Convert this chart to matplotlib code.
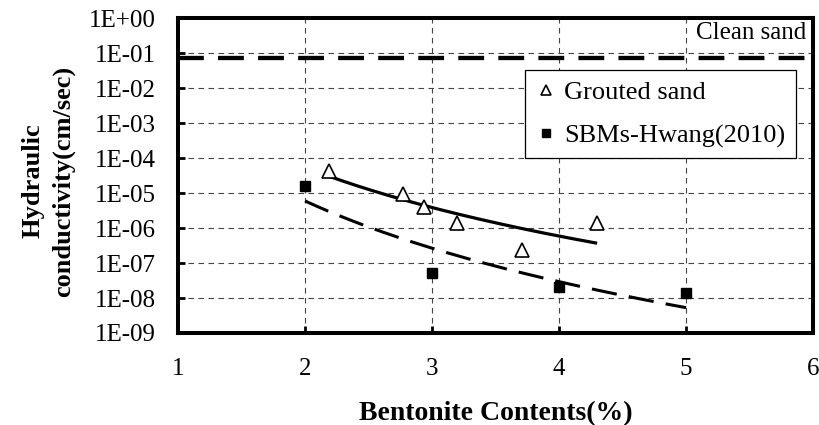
import numpy as np
import matplotlib
matplotlib.use("Agg")
import matplotlib.pyplot as plt
from matplotlib.ticker import FixedLocator, NullLocator, FixedFormatter

plt.rcParams['font.family'] = ['Liberation Serif', 'DejaVu Serif']

# ---- data ----
grouted_x = [2.19, 2.77, 2.94, 3.20, 3.71, 4.30]
grouted_k = [4.4e-5, 9.5e-6, 4.1e-6, 1.4e-6, 2.4e-7, 1.4e-6]

sbm_x = [2.0, 3.0, 4.0, 5.0]
sbm_k = [1.6e-5, 5.3e-8, 2.1e-8, 1.4e-8]

clean_sand_k = 7.5e-2

x_ticks = [1, 2, 3, 4, 5, 6]
y_ticks = [1e-9, 1e-8, 1e-7, 1e-6, 1e-5, 1e-4, 1e-3, 1e-2, 1e-1, 1e0]
y_tick_labels = ["1E-09", "1E-08", "1E-07", "1E-06", "1E-05",
                 "1E-04", "1E-03", "1E-02", "1E-01", "1E+00"]


def power_fit(x, y):
    lx, ly = np.log10(x), np.log10(y)
    b, a = np.polyfit(lx, ly, 1)
    xs = np.linspace(min(x), max(x), 200)
    return xs, 10 ** (a + b * np.log10(xs))


fig = plt.figure(figsize=(8.2, 4.25), dpi=100)
ax = fig.add_axes([0.2171, 0.2165, 0.9915 - 0.2171, 0.9567 - 0.2165])

ax.set_yscale('log')
ax.set_xlim(1, 6)
ax.set_ylim(1e-9, 1)

# grid
ax.grid(True, which='major', color='#444444', linestyle=(0, (5, 4)), linewidth=0.8)
ax.set_axisbelow(True)

# clean sand line
ax.axhline(clean_sand_k, color='black', linewidth=3.1, linestyle=(0, (6, 3.3)),
           dash_capstyle='butt')
ax.text(0.989, 0.954, "Clean sand", transform=ax.transAxes, ha='right', va='center',
        fontsize=18)

# trend lines
gx, gy = power_fit(grouted_x, grouted_k)
ax.plot(gx, gy, color='black', linewidth=2.3, solid_capstyle='butt')
sx, sy = power_fit(sbm_x, sbm_k)
ax.plot(sx, sy, color='black', linewidth=2.2, linestyle=(0, (8.3, 4.0)),
        dash_capstyle='butt')

# markers
ax.plot(grouted_x, grouted_k, linestyle='none', marker='^', markersize=9.5,
        markerfacecolor='white', markeredgecolor='black', markeredgewidth=1.2,
        label='Grouted sand', zorder=5)
ax.plot(sbm_x, sbm_k, linestyle='none', marker='s', markersize=7.5,
        markerfacecolor='black', markeredgecolor='black',
        label='SBMs-Hwang(2010)', zorder=5)

ax.xaxis.set_major_locator(FixedLocator(x_ticks))
ax.yaxis.set_major_locator(FixedLocator(y_ticks))
ax.yaxis.set_major_formatter(FixedFormatter(y_tick_labels))
ax.yaxis.set_minor_locator(NullLocator())

ax.tick_params(axis='both', which='major', labelsize=18, direction='in',
               length=5, width=2)
ax.tick_params(axis='x', pad=18)
ax.tick_params(axis='y', pad=16)

for s in ax.spines.values():
    s.set_linewidth(2.9)
    s.set_color('black')

ax.set_xlabel("Bentonite Contents(%)", fontsize=20, fontweight='bold', labelpad=15)
ax.set_ylabel("Hydraulic\nconductivity(cm/sec)", fontsize=19, fontweight='bold',
              linespacing=1.4)
ax.yaxis.set_label_coords(-0.162, 0.483)

leg = ax.legend(loc='upper right', bbox_to_anchor=(796 / 820, 1 - 70 / 425),
                bbox_transform=fig.transFigure, fontsize=19, frameon=True,
                fancybox=False, edgecolor='black', framealpha=1,
                borderaxespad=0, handlelength=0.8, handletextpad=0.3,
                markerscale=0.75, borderpad=0.4, labelspacing=0.75)
leg.get_frame().set_linewidth(0.9)

fig.savefig("out.png", dpi=100)
